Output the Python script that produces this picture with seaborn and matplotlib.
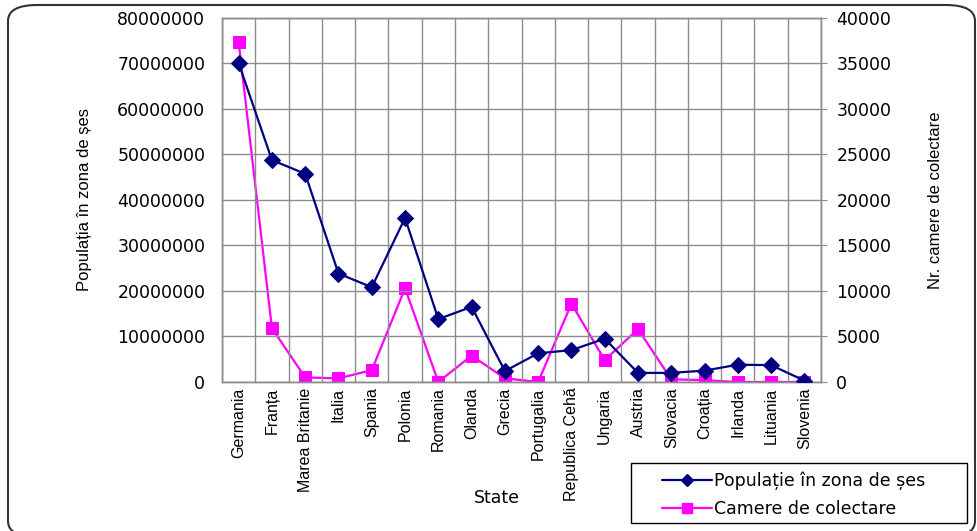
import numpy as np
import matplotlib
matplotlib.use("Agg")
import matplotlib.pyplot as plt
from matplotlib.patches import FancyBboxPatch, Rectangle
from matplotlib.lines import Line2D
import seaborn as sns

categories = ["Germania", "Franța", "Marea Britanie", "Italia", "Spania", "Polonia",
              "Romania", "Olanda", "Grecia", "Portugalia", "Republica Cehă", "Ungaria",
              "Austria", "Slovacia", "Croația", "Irlanda", "Lituania", "Slovenia"]
populatie = [70000000, 48700000, 45700000, 23800000, 20800000, 36000000,
             13800000, 16500000, 2400000, 6300000, 7000000, 9500000,
             2000000, 2000000, 2500000, 3800000, 3700000, 300000]
camere = [37300, 5900, 500, 400, 1300, 10300,
          0, 2900, 400, 0, 8600, 2400,
          5800, 300, 200, 0, 0, 0]
left_ticks = [0, 10000000, 20000000, 30000000, 40000000, 50000000, 60000000, 70000000, 80000000]
right_ticks = [0, 5000, 10000, 15000, 20000, 25000, 30000, 35000, 40000]

sns.set_style("white")
plt.rcParams['font.family'] = ['Liberation Sans', 'DejaVu Sans']
plt.rcParams['text.color'] = 'black'
plt.rcParams['axes.labelcolor'] = 'black'
plt.rcParams['xtick.labelcolor'] = 'black'
plt.rcParams['ytick.labelcolor'] = 'black'
wide = ['DejaVu Sans', 'Liberation Sans']

blue = "#000080"
magenta = "#FF00FF"
grid_c = "#8c8c8c"

fig = plt.figure(figsize=(9.78, 5.31), dpi=100)
ax = fig.add_axes([0.227, 0.2806, 0.6125, 0.6864])
ax2 = ax.twinx()

x = np.arange(len(categories))
sns.lineplot(x=x, y=populatie, ax=ax, color=blue, marker="D", markersize=8,
             markeredgecolor=blue, linewidth=1.6, zorder=3)
sns.lineplot(x=x, y=camere, ax=ax2, color=magenta, marker="s", markersize=9,
             markeredgecolor=magenta, linewidth=1.6, zorder=3)

ax.set_xlim(-0.5, len(categories) - 0.5)
ax.set_ylim(0, 80000000)
ax2.set_ylim(0, 40000)
ax.set_yticks(left_ticks)
ax.set_yticklabels([str(v) for v in left_ticks], fontsize=12.5, family=wide, color="black")
ax2.set_yticks(right_ticks)
ax2.set_yticklabels([str(v) for v in right_ticks], fontsize=12.5, family=wide, color="black")
ax.set_xticks(x)
ax.set_xticklabels(categories, rotation=90, fontsize=11.5, color="black")
ax.set_xticks(np.arange(len(categories) + 1) - 0.5, minor=True)

ax.grid(True, which="major", axis="y", color=grid_c, linewidth=1.0)
ax.grid(True, which="minor", axis="x", color=grid_c, linewidth=1.0)
ax.set_axisbelow(True)
ax2.grid(False)

for a in (ax, ax2):
    for s in a.spines.values():
        s.set_color(grid_c)
        s.set_linewidth(1.0)

ax.tick_params(axis="x", which="major", length=0, pad=4)
ax.tick_params(axis="x", which="minor", length=4, color=grid_c, direction="out")
ax.tick_params(axis="y", length=0, pad=12)
ax2.tick_params(axis="y", length=4, color=grid_c, pad=7)

ax.set_ylabel("Populația în zona de șes", fontsize=12, color="black")
ax.yaxis.set_label_coords(-0.217, 0.5)
ax2.set_ylabel("Nr. camere de colectare", fontsize=12, color="black")
ax2.yaxis.set_label_coords(1.178, 0.5)
ax.set_xlabel("")
fig.text(0.508, 0.063, "State", fontsize=12.5, family=wide, ha="center", va="center",
         color="black")

ax.set_zorder(ax2.get_zorder() + 1)
ax.patch.set_visible(False)
ax2.patch.set_visible(True)
ax2.patch.set_facecolor("white")

handles = [Line2D([0], [0], color=blue, marker="D", markersize=6, linewidth=1.6),
           Line2D([0], [0], color=magenta, marker="s", markersize=7, linewidth=1.6)]
leg = fig.legend(handles, ["Populație în zona de șes", "Camere de colectare"],
                 loc="upper left", bbox_to_anchor=(662 / 978, 1 - 472 / 531),
                 bbox_transform=fig.transFigure, borderaxespad=0,
                 prop={'family': wide, 'size': 12.5}, frameon=False,
                 handlelength=2.9, handletextpad=0.1, borderpad=0, labelspacing=0.55)
for t in leg.get_texts():
    t.set_color("black")
fig.patches.append(Rectangle((631 / 978, 1 - 523 / 531), 336 / 978, 60 / 531,
                             transform=fig.transFigure, fill=False,
                             edgecolor="black", linewidth=1.0))

border = FancyBboxPatch((8 / 978, -6 / 531), 967 / 978, 532 / 531,
                        boxstyle="round,pad=0,rounding_size=0.03",
                        transform=fig.transFigure, fill=False,
                        edgecolor="#333333", linewidth=1.5)
fig.patches.append(border)

fig.savefig("out.png", dpi=100)
